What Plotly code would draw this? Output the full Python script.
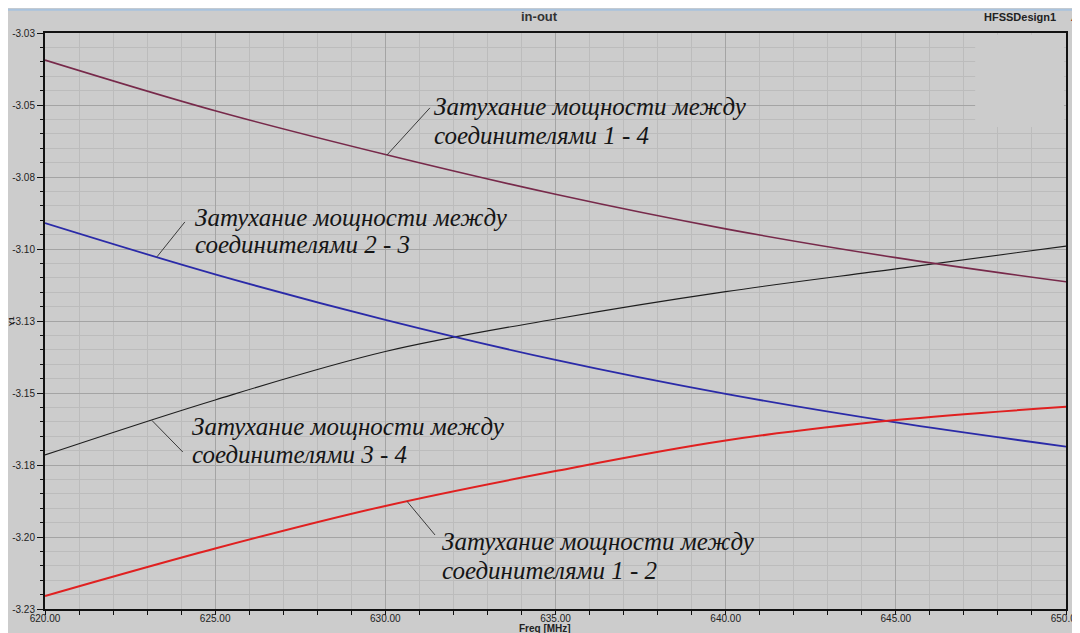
import numpy as np
import plotly.graph_objects as go

# ---- data ----
freq = [620, 625, 630, 635, 640, 645, 650]
s14 = [-3.0394, -3.0570, -3.0722, -3.0860, -3.0980, -3.1080, -3.1164]   # maroon
s23 = [-3.0960, -3.1138, -3.1296, -3.1435, -3.1553, -3.1652, -3.1736]   # blue
s34 = [-3.1765, -3.1574, -3.1406, -3.1293, -3.1198, -3.1119, -3.1040]   # black
s12 = [-3.2255, -3.2090, -3.1942, -3.1821, -3.1715, -3.1644, -3.1598]   # red

y_tickvals = [-3.03, -3.055, -3.08, -3.105, -3.13, -3.155, -3.18, -3.205, -3.23]
y_ticktext = ["-3.03", "-3.05", "-3.08", "-3.10", "-3.13", "-3.15", "-3.18", "-3.20", "-3.23"]
x_tickvals = [620, 625, 630, 635, 640, 645, 650]
x_ticktext = ["620.00", "625.00", "630.00", "635.00", "640.00", "645.00", "650.00"]

label_line1 = "Затухание мощности между"
labels_line2 = {
    "14": "соединителями 1 - 4",
    "23": "соединителями 2 - 3",
    "34": "соединителями 3 - 4",
    "12": "соединителями 1 - 2",
}

BG = "#cccccc"
fig = go.Figure()

series = [
    (s34, "#1e1e1e", 1.1),
    (s14, "#77294a", 1.6),
    (s23, "#2a2aa8", 1.8),
    (s12, "#e02020", 2.0),
]
for ys, col, w in series:
    fig.add_trace(go.Scatter(x=freq, y=ys, mode="lines",
                             line=dict(color=col, width=w, shape="spline", smoothing=1.0),
                             hoverinfo="skip", showlegend=False))

# annotations with pointer lines: (series, key, curve-freq, tail(x,y), text x, line1 y, line2 y)
notes = [
    (s14, "14", 630.05, (631.31, -3.0560), 631.37, -3.0555, -3.0656),
    (s23, "23", 623.29, (624.11, -3.0956), 624.35, -3.0939, -3.1036),
    (s34, "34", 623.14, (624.05, -3.1755), 624.26, -3.1668, -3.1762),
    (s12, "12", 630.64, (631.46, -3.2043), 631.61, -3.2064, -3.2165),
]
shapes = []
annotations = []
txtfont = dict(family="Liberation Serif", size=25, color="#151515")
for ys, key, fx, (tx, ty), lx, l1, l2 in notes:
    cy = float(np.interp(fx, freq, ys))
    shapes.append(dict(type="line", xref="x", yref="y", x0=tx, y0=ty, x1=fx, y1=cy,
                       line=dict(color="#3a3a3a", width=1), layer="above"))
    annotations.append(dict(x=lx, y=l1, xref="x", yref="y", text="<i>" + label_line1 + "</i>",
                            showarrow=False, xanchor="left", yanchor="middle", font=txtfont))
    annotations.append(dict(x=lx, y=l2, xref="x", yref="y", text="<i>" + labels_line2[key] + "</i>",
                            showarrow=False, xanchor="left", yanchor="middle", font=txtfont))

# blank legend area top-right
shapes.append(dict(type="rect", xref="x domain", yref="y domain", x0=0.911, x1=0.998, y0=0.8368, y1=0.997,
                   fillcolor=BG, line=dict(width=0), layer="above"))
# thin light-blue line under the white top strip
shapes.append(dict(type="line", xref="paper", yref="paper", x0=-0.05, x1=1.02, y0=1.0405, y1=1.0405,
                   line=dict(color="#a9c3de", width=2), layer="above"))

hdr = dict(family="Arial", size=13, color="#333333")
annotations += [
    dict(x=0.4848, y=1.0278, xref="paper", yref="paper", text="<b>in-out</b>", showarrow=False,
         font=hdr, xanchor="center", yanchor="middle"),
    dict(x=0.992, y=1.0278, xref="paper", yref="paper", text="<b>HFSSDesign1</b>", showarrow=False,
         font=dict(family="Arial", size=11, color="#222222"), xanchor="right", yanchor="middle"),
    dict(x=1.0085, y=1.0278, xref="paper", yref="paper", text="▲", showarrow=False,
         font=dict(family="DejaVu Sans", size=9, color="#8b1a1a"), xanchor="center", yanchor="middle"),
    dict(x=0.4902, y=-0.033, xref="paper", yref="paper", text="<b>Freq [MHz]</b>", showarrow=False,
         font=dict(family="Arial", size=10, color="#222222"), xanchor="center", yanchor="middle"),
    dict(x=-0.033, y=0.5, xref="paper", yref="paper", text="<b>Y1</b>", showarrow=False, textangle=-90,
         font=dict(family="Arial", size=8, color="#222222"), xanchor="center", yanchor="middle"),
]

# the page body adds an 8px offset, so the figure is sized to fill the rest of the window
fig.update_layout(
    width=1072, height=625,
    margin=dict(l=37, r=14, t=25, b=24, autoexpand=False),
    paper_bgcolor=BG, plot_bgcolor=BG,
    shapes=shapes, annotations=annotations,
    showlegend=False,
)
fig.update_xaxes(
    range=[620, 650], tickmode="array", tickvals=x_tickvals, ticktext=x_ticktext,
    showgrid=True, gridcolor="#a4a4a4", gridwidth=1, automargin=False,
    showline=True, linecolor="#111111", linewidth=2, mirror=True,
    ticks="outside", ticklen=4, tickcolor="#111111", ticklabelstandoff=-5,
    ticklabeloverflow="allow",
    tickfont=dict(family="Arial", size=10, color="#222222"),
    minor=dict(dtick=1, tick0=620, showgrid=True, gridcolor="#bcbcbc", gridwidth=1,
               ticks="outside", ticklen=4, tickcolor="#111111"),
    zeroline=False, fixedrange=True,
)
fig.update_yaxes(
    range=[-3.23, -3.03], tickmode="array", tickvals=y_tickvals, ticktext=y_ticktext,
    showgrid=True, gridcolor="#a4a4a4", gridwidth=1, automargin=False,
    showline=True, linecolor="#111111", linewidth=2, mirror=True,
    ticks="outside", ticklen=6, tickcolor="#111111",
    ticklabeloverflow="allow",
    tickfont=dict(family="Arial", size=10, color="#222222"),
    minor=dict(dtick=0.005, tick0=-3.23, showgrid=True, gridcolor="#bcbcbc", gridwidth=1,
               ticks="outside", ticklen=3, tickcolor="#111111"),
    zeroline=False, fixedrange=True,
)
fig.write_html("out.html")
